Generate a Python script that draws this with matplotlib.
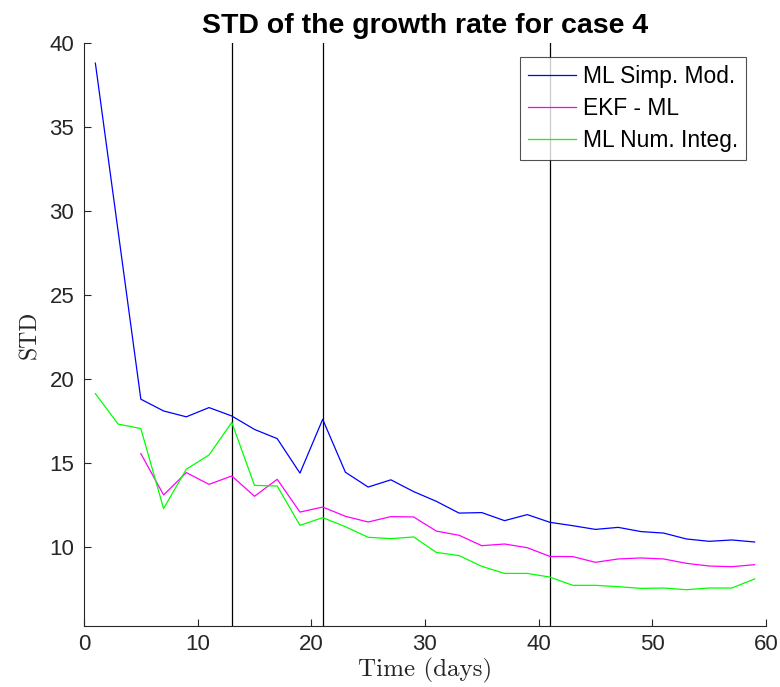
import numpy as np
import matplotlib
matplotlib.use("Agg")
import matplotlib.pyplot as plt

# Days at which the STD was evaluated
days = np.arange(1, 60, 2)

std_simp_model = [38.8, 28.8, 18.8, 18.1, 17.75, 18.3, 17.8, 17.0, 16.45, 14.4,
                  17.6, 14.45, 13.57, 14.0, 13.3, 12.72, 12.02, 12.05, 11.57, 11.93,
                  11.47, 11.27, 11.05, 11.17, 10.92, 10.83, 10.48, 10.34, 10.42, 10.3]

# EKF - ML starts at day 5
ekf_days = days[2:]
std_ekf_ml = [15.56, 13.1, 14.43, 13.73, 14.23, 13.02, 14.03, 12.08,
              12.38, 11.83, 11.49, 11.81, 11.79, 10.95, 10.7, 10.08, 10.18, 9.96,
              9.44, 9.43, 9.09, 9.29, 9.35, 9.29, 9.03, 8.87, 8.83, 8.95]

std_num_integ = [19.13, 17.32, 17.05, 12.29, 14.63, 15.48, 17.42, 13.67, 13.63, 11.29,
                 11.75, 11.21, 10.58, 10.5, 10.6, 9.68, 9.49, 8.85, 8.43, 8.43,
                 8.21, 7.72, 7.72, 7.64, 7.54, 7.56, 7.46, 7.56, 7.56, 8.1]

# Days marked with vertical reference lines
marker_days = [13, 21, 41]

x_ticks = [0, 10, 20, 30, 40, 50, 60]
y_ticks = [10, 15, 20, 25, 30, 35, 40]

fig = plt.figure(figsize=(7.8, 6.87), dpi=100)
ax = fig.add_axes([0.1077, 0.0888, 0.8743, 0.8486])

lw = 0.9
ax.plot(days, std_simp_model, color=(0, 0, 1), lw=lw, label="ML Simp. Mod.")
ax.plot(ekf_days, std_ekf_ml, color=(1, 0, 1), lw=lw, label="EKF - ML")
ax.plot(days, std_num_integ, color=(0, 1, 0), lw=lw, label="ML Num. Integ.")

for d in marker_days:
    ax.axvline(d, color="black", lw=0.9, zorder=1)

ax.set_xlim(0, 60)
ax.set_ylim(5.3, 40)
ax.set_xticks(x_ticks)
ax.set_yticks(y_ticks)

for side in ("top", "right"):
    ax.spines[side].set_visible(False)
for side in ("left", "bottom"):
    ax.spines[side].set_color("#262626")
    ax.spines[side].set_linewidth(0.8)

ax.tick_params(direction="in", length=5, width=0.8, color="#262626",
               labelsize=16, labelcolor="#262626")
ax.tick_params(axis="y", pad=7)
ax.tick_params(axis="x", pad=6)
for lab in ax.get_xticklabels() + ax.get_yticklabels():
    lab.set_fontfamily("Liberation Sans")

ax.set_title("STD of the growth rate for case 4", fontsize=20.5, fontweight="bold",
             fontfamily="Liberation Sans", pad=7)
ax.set_xlabel("Time (days)", fontsize=18, fontfamily="cmr10", color="#262626", labelpad=2)
ax.set_ylabel("STD", fontsize=17, fontfamily="cmr10", color="#262626", labelpad=6)

leg = ax.legend(loc="upper right", bbox_to_anchor=(0.971, 0.976),
                prop={"family": "Liberation Sans", "size": 16.4},
                frameon=True, fancybox=False, edgecolor="#262626",
                handlelength=2.1, handletextpad=0.3, borderpad=0.35,
                labelspacing=0.4, borderaxespad=0.0)
leg.get_frame().set_linewidth(0.8)

fig.savefig("out.png", dpi=100)
